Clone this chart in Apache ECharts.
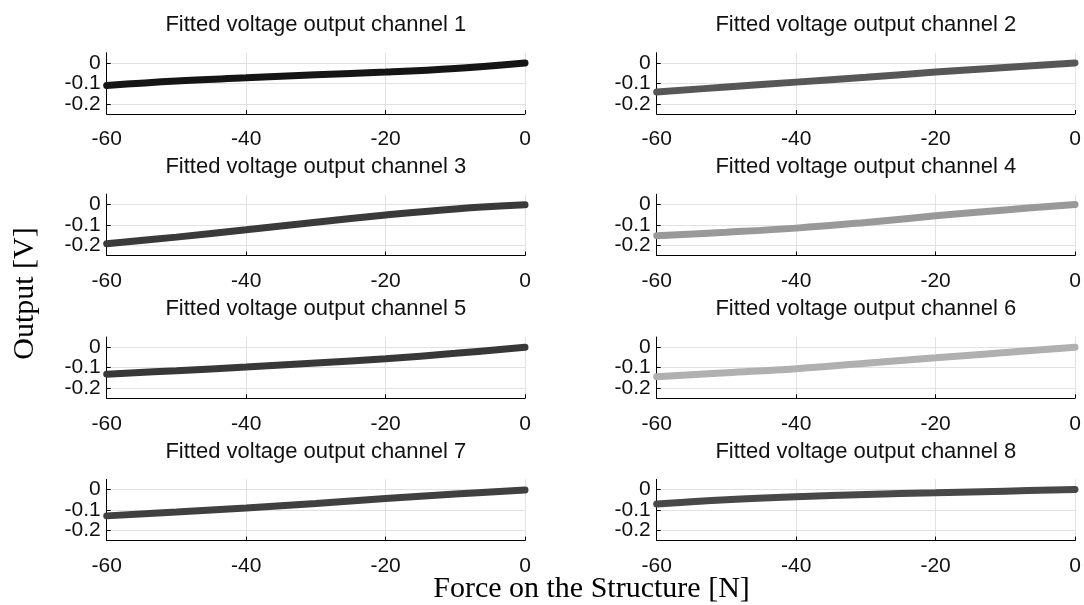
<!DOCTYPE html>
<html>
<head>
<meta charset="utf-8">
<script src="https://cdn.jsdelivr.net/npm/echarts@6/dist/echarts.min.js"></script>
<style>html,body{margin:0;padding:0;background:#fff}#c{width:1084px;height:605px}</style>
</head>
<body>
<div id="c"></div>
<script>
const force = [-60, -50, -40, -30, -20, -10, 0];
const ch1 = [-0.110, -0.088, -0.073, -0.058, -0.045, -0.027, 0];
const ch2 = [-0.142, -0.118, -0.094, -0.070, -0.045, -0.022, 0];
const ch3 = [-0.192, -0.160, -0.124, -0.087, -0.052, -0.022, -0.002];
const ch4 = [-0.153, -0.136, -0.116, -0.088, -0.056, -0.027, 0];
const ch5 = [-0.132, -0.115, -0.097, -0.077, -0.056, -0.030, 0];
const ch6 = [-0.145, -0.125, -0.105, -0.078, -0.052, -0.026, 0];
const ch7 = [-0.129, -0.110, -0.090, -0.068, -0.044, -0.022, -0.002];
const ch8 = [-0.071, -0.050, -0.035, -0.024, -0.016, -0.008, 0];
const channels = [ch1, ch2, ch3, ch4, ch5, ch6, ch7, ch8];
const titles = ['Fitted voltage output channel 1','Fitted voltage output channel 2','Fitted voltage output channel 3','Fitted voltage output channel 4','Fitted voltage output channel 5','Fitted voltage output channel 6','Fitted voltage output channel 7','Fitted voltage output channel 8'];
const colors = ['#151515','#575757','#3a3a3a','#999999','#383838','#b0b0b0','#404040','#484848'];
const yTickValues = [-0.2, -0.1, 0];
const yTickLabels = {'0': '0', '-0.1': '-0.1', '-0.2': '-0.2'};
const xLabel = 'Force on the Structure [N]';
const yLabel = 'Output [V]';

const colLeft = [106.7, 656.7];
const gridW = 418.3;
const rowTop = [52.7, 194.2, 337, 479.3];
const gridH = 61.3;
const sans = 'Liberation Sans, Arial, Helvetica, sans-serif';
const serif = 'Liberation Serif, Times New Roman, serif';

function yFmt(v) {
  const key = String(Math.round(v * 100) / 100);
  return yTickLabels[key === '-0' ? '0' : key] || '';
}

const grid = [], xAxis = [], yAxis = [], series = [], graphic = [];
for (let i = 0; i < 8; i++) {
  const r = Math.floor(i / 2), c = i % 2;
  grid.push({left: colLeft[c], top: rowTop[r], width: gridW, height: gridH, containLabel: false});
  xAxis.push({
    type: 'value', gridIndex: i, min: -60, max: 0, interval: 20,
    axisLine: {show: true, onZero: false, lineStyle: {color: '#000', width: 1}},
    axisTick: {show: true, inside: true, length: 4, lineStyle: {color: '#000'}},
    axisLabel: {fontSize: 21, fontFamily: sans, color: '#111', margin: 15},
    splitLine: {show: true, lineStyle: {color: '#e2e2e2', width: 1}}
  });
  yAxis.push({
    type: 'value', gridIndex: i, min: -0.25, max: 0.05, interval: 0.05,
    axisLine: {show: true, onZero: false, lineStyle: {color: '#000', width: 1}},
    axisTick: {show: true, inside: true, length: 4, customValues: yTickValues, lineStyle: {color: '#000'}},
    axisLabel: {fontSize: 21, lineHeight: 12, fontFamily: sans, color: '#111', margin: 6,
      padding: [5, 0, 0, 0], hideOverlap: false, showMinLabel: true, showMaxLabel: true,
      formatter: yFmt},
    splitLine: {show: true, lineStyle: {color: '#e2e2e2', width: 1}}
  });
  series.push({
    type: 'line', xAxisIndex: i, yAxisIndex: i, smooth: 0.4, showSymbol: false, symbol: 'none',
    lineStyle: {color: colors[i], width: 7, cap: 'round'},
    data: force.map((f, k) => [f, channels[i][k]])
  });
  graphic.push({type: 'text', style: {x: colLeft[c] + gridW / 2, y: rowTop[r] - 27.7, text: titles[i],
    fill: '#111', font: '22px ' + sans, textAlign: 'center', textVerticalAlign: 'middle'}});
}
graphic.push({type: 'text', style: {x: 591.5, y: 589, text: xLabel, fill: '#000', font: '30px ' + serif,
  textAlign: 'center', textVerticalAlign: 'middle'}});
graphic.push({type: 'text', rotation: Math.PI / 2, x: 25, y: 293.5, style: {x: 0, y: 0, text: yLabel, fill: '#000',
  font: '30px ' + serif, textAlign: 'center', textVerticalAlign: 'middle'}});

const chart = echarts.init(document.getElementById('c'), null, {renderer: 'canvas'});
chart.setOption({animation: false, backgroundColor: '#fff', grid, xAxis, yAxis, series, graphic});
</script>
</body>
</html>
